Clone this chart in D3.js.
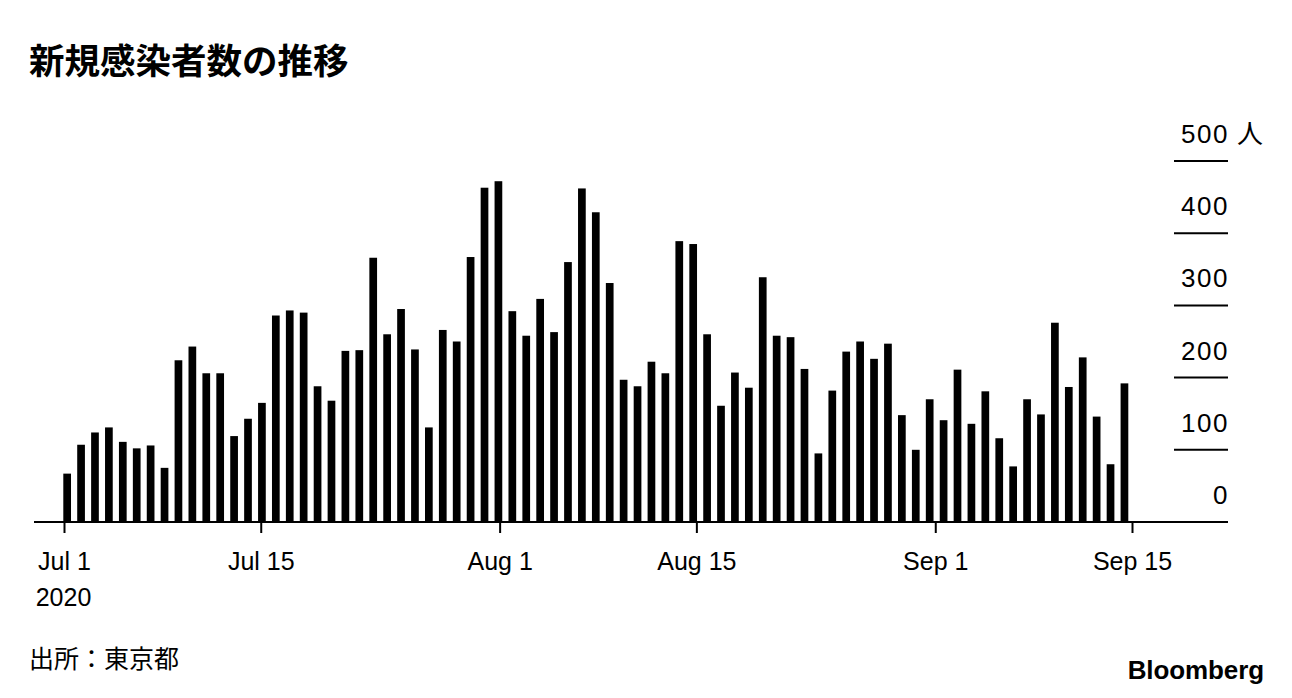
<!DOCTYPE html>
<html><head><meta charset="utf-8">
<script src="https://cdn.jsdelivr.net/npm/d3@7"></script>
<style>
html,body{margin:0;padding:0;background:#fff;}
svg{display:block;}
.lat{font-family:"Liberation Sans",Arial,Helvetica,sans-serif;}
.cjk{font-family:"Noto Sans CJK JP","Noto Sans",sans-serif;}
</style>
</head><body>
<svg id="chart" width="1292" height="698"></svg>
<script>
const title = "新規感染者数の推移";
const source = "出所：東京都";
const unitLabel = "人";
const startDate = "2020-07-01";
const values = [
  67,107,124,131,111,102,106,75,224,243,206,206,119,143,
  165,286,293,290,188,168,237,238,366,260,295,239,131,266,250,367,463,
  472,292,258,309,263,360,462,429,331,197,188,222,206,389,
  385,260,161,207,186,339,258,256,212,95,182,236,250,226,247,148,100,
  170,141,211,136,181,116,77,170,149,276,187,228,146,80,192
];
const tickDates = ["2020-07-01","2020-07-15","2020-08-01","2020-08-15","2020-09-01","2020-09-15"];
const tickLabels = ["Jul 1","Jul 15","Aug 1","Aug 15","Sep 1","Sep 15"];
const yTicks = [0,100,200,300,400,500];

const parse = d3.timeParse("%Y-%m-%d");
const d0 = parse(startDate);
const dates = values.map((v,i)=>d3.timeDay.offset(d0,i));
const data = values.map((v,i)=>({date:dates[i], value:v}));

const svg = d3.select("#chart");

const x = d3.scaleTime().domain([dates[0], dates[dates.length-1]]).range([64, 1132]);
const xb = d3.scaleBand().domain(d3.range(values.length)).range([63.3, 1128.3]).paddingInner(0.446).paddingOuter(0);
const y = d3.scaleLinear().domain([0,500]).range([522,161]);

// title
svg.append("text").attr("class","cjk").attr("x",29).attr("y",74)
  .attr("font-size",35.5).attr("font-weight",700).attr("fill","#000").text(title);

// bars
svg.append("g").selectAll("rect").data(data).join("rect")
  .attr("x",(d,i)=>xb(i)).attr("width",xb.bandwidth())
  .attr("y",d=>y(d.value)).attr("height",d=>y(0)-y(d.value))
  .attr("fill","#000");

// y gridline stubs + labels
const yg = svg.append("g");
yg.selectAll("line").data(yTicks).join("line")
  .attr("x1",d=>d===0?34:1174).attr("x2",1228)
  .attr("y1",d=>y(d)).attr("y2",d=>y(d))
  .attr("stroke","#000").attr("stroke-width",2);
yg.selectAll("text").data(yTicks).join("text")
  .attr("class","lat").attr("x",1229).attr("y",d=>y(d)-18)
  .attr("text-anchor","end").attr("font-size",26).attr("letter-spacing",1.5).attr("fill","#000")
  .text(d=>d);
yg.append("text").attr("class","cjk").attr("x",1237).attr("y",y(500)-18)
  .attr("font-size",26).attr("fill","#000").text(unitLabel);

// x axis ticks
const tickVals = tickDates.map(parse);
const xa = svg.append("g").attr("transform","translate(0,522)")
  .call(d3.axisBottom(x).tickValues(tickVals).tickSize(11).tickSizeOuter(0)
    .tickFormat((d,i)=>tickLabels[i]));
xa.select(".domain").remove();
xa.selectAll(".tick line").attr("stroke","#000").attr("stroke-width",2);
xa.selectAll(".tick text").attr("class","lat").attr("font-size",25).attr("fill","#000")
  .attr("y",48).attr("dy",0).attr("font-family","'Liberation Sans',Arial,sans-serif");
svg.append("text").attr("class","lat").attr("x",63.5).attr("y",606)
  .attr("text-anchor","middle").attr("font-size",25).attr("fill","#000").text("2020");

// source
svg.append("text").attr("class","cjk").attr("x",29).attr("y",668)
  .attr("font-size",25).attr("fill","#000").text(source);

// logo
svg.append("text").attr("class","lat").attr("x",1264).attr("y",679)
  .attr("text-anchor","end").attr("font-size",26).attr("font-weight",700)
  .attr("letter-spacing",-0.1).attr("fill","#000").text("Bloomberg");
</script>
</body></html>
